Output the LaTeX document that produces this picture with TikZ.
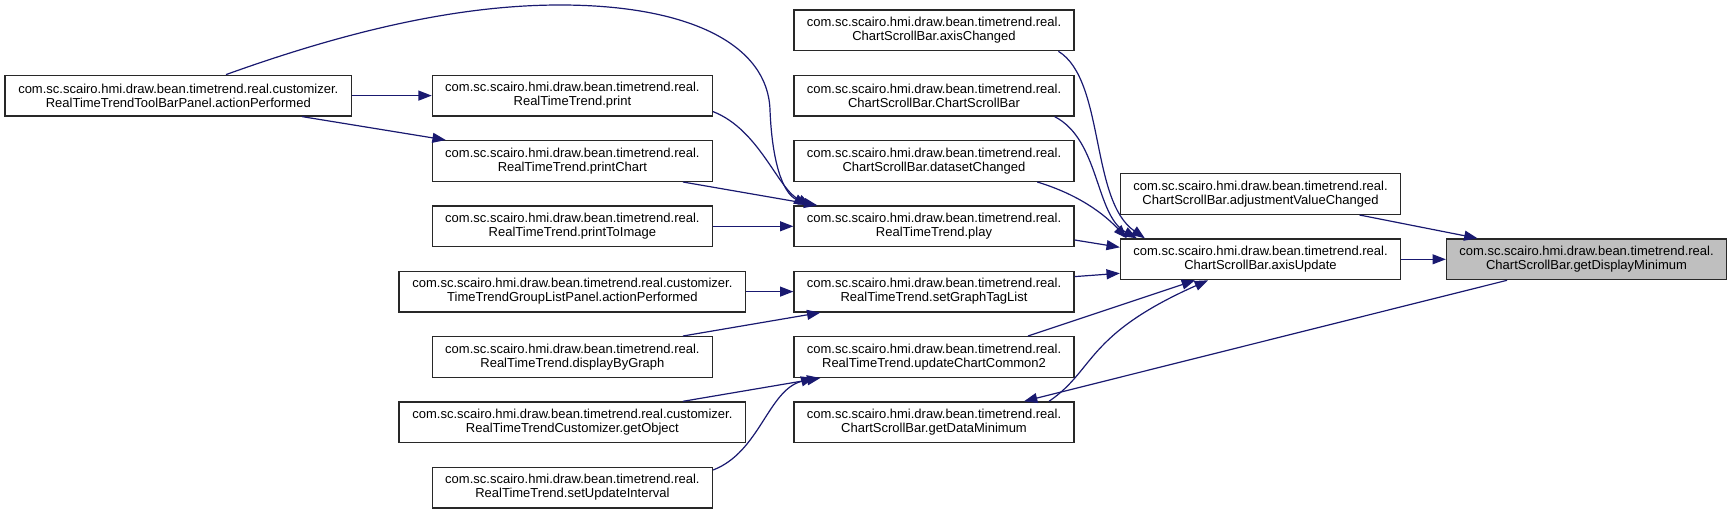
\documentclass[tikz,border=0pt]{standalone}
\usepackage{fontspec}
\setmainfont{Liberation Sans}
\usetikzlibrary{arrows.meta,calc}
\definecolor{edgeblue}{RGB}{25,25,112}
\definecolor{curgray}{RGB}{191,191,191}
\definecolor{boxline}{RGB}{40,40,40}

\begin{document}
\begin{tikzpicture}[x=0.75pt,y=-0.75pt,>={Triangle[length=10pt,width=7.5pt]},
  fn/.style={draw=boxline,line width=1pt,fill=white,minimum width=210pt,minimum height=30.5pt,
    inner sep=0pt,align=center,font=\fontsize{9.75}{10.5}\selectfont},
  fnwide/.style={fn,minimum width=260pt},
  cur/.style={fn,fill=curgray},
  call/.style={->,color=edgeblue,line width=0.9pt}]

\useasboundingbox (0,0) rectangle (1732,514);

\node[fnwide] (tbpanel) at (178.3,95.6) {com.sc.scairo.hmi.draw.bean.timetrend.real.customizer.\\RealTimeTrendToolBarPanel.actionPerformed};

\node[fn] (print) at (572.4,95.6) {com.sc.scairo.hmi.draw.bean.timetrend.real.\\RealTimeTrend.print};
\node[fn] (printchart) at (572.4,161) {com.sc.scairo.hmi.draw.bean.timetrend.real.\\RealTimeTrend.printChart};
\node[fn] (printtoimage) at (572.4,226.3) {com.sc.scairo.hmi.draw.bean.timetrend.real.\\RealTimeTrend.printToImage};
\node[fnwide] (grouplist) at (572.4,291.6) {com.sc.scairo.hmi.draw.bean.timetrend.real.customizer.\\TimeTrendGroupListPanel.actionPerformed};
\node[fn] (displaybygraph) at (572.4,357) {com.sc.scairo.hmi.draw.bean.timetrend.real.\\RealTimeTrend.displayByGraph};
\node[fnwide] (getobject) at (572.4,422.3) {com.sc.scairo.hmi.draw.bean.timetrend.real.customizer.\\RealTimeTrendCustomizer.getObject};
\node[fn] (setupdateinterval) at (572.4,487.6) {com.sc.scairo.hmi.draw.bean.timetrend.real.\\RealTimeTrend.setUpdateInterval};

\node[fn] (axischanged) at (934,30.3) {com.sc.scairo.hmi.draw.bean.timetrend.real.\\ChartScrollBar.axisChanged};
\node[fn] (csb) at (934,95.6) {com.sc.scairo.hmi.draw.bean.timetrend.real.\\ChartScrollBar.ChartScrollBar};
\node[fn] (datasetchanged) at (934,161) {com.sc.scairo.hmi.draw.bean.timetrend.real.\\ChartScrollBar.datasetChanged};
\node[fn] (play) at (934,226.3) {com.sc.scairo.hmi.draw.bean.timetrend.real.\\RealTimeTrend.play};
\node[fn] (setgraphtaglist) at (934,291.6) {com.sc.scairo.hmi.draw.bean.timetrend.real.\\RealTimeTrend.setGraphTagList};
\node[fn] (updatechart) at (934,357) {com.sc.scairo.hmi.draw.bean.timetrend.real.\\RealTimeTrend.updateChartCommon2};
\node[fn] (getdatamin) at (934,422.3) {com.sc.scairo.hmi.draw.bean.timetrend.real.\\ChartScrollBar.getDataMinimum};

\node[fn] (adjustment) at (1260.5,194) {com.sc.scairo.hmi.draw.bean.timetrend.real.\\ChartScrollBar.adjustmentValueChanged};
\node[fn] (axisupdate) at (1260.5,259.3) {com.sc.scairo.hmi.draw.bean.timetrend.real.\\ChartScrollBar.axisUpdate};

\node[cur] (getdisplaymin) at (1586.5,259.3) {com.sc.scairo.hmi.draw.bean.timetrend.real.\\ChartScrollBar.getDisplayMinimum};

\coordinate (arctop) at (560,5);
\coordinate (arcside) at (770,110);

\draw[call] (tbpanel.east) -- (print.west);
\draw[call] ($(tbpanel.south)+(123.7,0)$) -- ($(printchart.north west)+(14,0)$);
\draw[call] ($(tbpanel.north)+(47.7,0)$) .. controls (350,30) and (460,5) .. (arctop)
  .. controls (690,5) and (768,45) .. (arcside)
  .. controls (772,160) and (782,192) .. ($(play.north west)+(14,0)$);

\draw[call] ($(print.east)+(0,16)$) .. controls (760,130) and (778,190) .. ($(play.north west)+(18,0)$);
\draw[call] ($(printchart.south)+(110.6,0)$) -- ($(play.north west)+(24,0)$);
\draw[call] (printtoimage.east) -- (play.west);

\draw[call] (grouplist.east) -- (setgraphtaglist.west);
\draw[call] ($(displaybygraph.north)+(110.6,0)$) -- ($(setgraphtaglist.south west)+(27,0)$);
\draw[call] ($(getobject.north)+(110.6,0)$) -- ($(updatechart.south west)+(27,0)$);
\draw[call] ($(setupdateinterval.east)+(0,-17.6)$) .. controls (760,452) and (768,390) .. ($(updatechart.south west)+(21,0)$);

\draw[call] ($(axischanged.south)+(124.4,0)$) .. controls (1105,80) and (1090,200) .. ($(axisupdate.north west)+(25,0)$);
\draw[call] ($(csb.south)+(120.6,0)$) .. controls (1100,140) and (1095,215) .. ($(axisupdate.north west)+(17,0)$);
\draw[call] ($(datasetchanged.south)+(103.3,0)$) .. controls (1080,195) and (1105,215) .. ($(axisupdate.north west)+(7,0)$);
\draw[call] ($(play.east)+(0,13.7)$) -- ($(axisupdate.west)+(0,-12)$);
\draw[call] ($(setgraphtaglist.east)+(0,-15)$) -- ($(axisupdate.west)+(0,14)$);
\draw[call] ($(updatechart.north)+(94,0)$) -- ($(axisupdate.south)+(-65.5,0)$);
\draw[call] ($(getdatamin.north)+(115,0)$) .. controls (1095,370) and (1085,335) .. ($(axisupdate.south)+(-52.5,0)$);

\draw[call] ($(adjustment.south)+(99,0)$) -- ($(getdisplaymin.north)+(-109,0)$);
\draw[call] (axisupdate.east) -- (getdisplaymin.west);
\draw[call] ($(getdisplaymin.south)+(-79.5,0)$) -- ($(getdatamin.north)+(90,0)$);

\end{tikzpicture}
\end{document}
